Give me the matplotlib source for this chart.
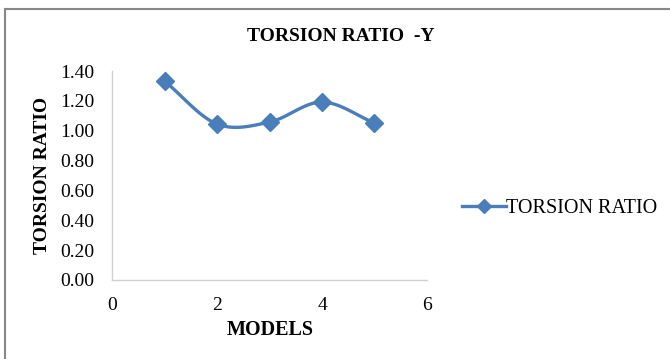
import numpy as np
import matplotlib.pyplot as plt
from matplotlib.lines import Line2D

models = [1, 2, 3, 4, 5]
torsion_ratio = [1.333, 1.045, 1.058, 1.192, 1.052]

x_ticks = [0, 2, 4, 6]
y_ticks = [0.0, 0.2, 0.4, 0.6, 0.8, 1.0, 1.2, 1.4]

blue = '#4a7ebb'
plt.rcParams['font.family'] = ['Liberation Serif', 'DejaVu Serif']


def smooth(xs, ys, n=30):
    # catmull-rom through the points, like excel's smoothed line
    xs = np.asarray(xs, float)
    ys = np.asarray(ys, float)
    px = np.concatenate([[2 * xs[0] - xs[1]], xs, [2 * xs[-1] - xs[-2]]])
    py = np.concatenate([[2 * ys[0] - ys[1]], ys, [2 * ys[-1] - ys[-2]]])
    outx, outy = [], []
    t = np.linspace(0, 1, n)
    for i in range(1, len(px) - 2):
        for p, out in ((px, outx), (py, outy)):
            p0, p1, p2, p3 = p[i - 1], p[i], p[i + 1], p[i + 2]
            out.extend(0.5 * (2 * p1 + (-p0 + p2) * t
                              + (2 * p0 - 5 * p1 + 4 * p2 - p3) * t ** 2
                              + (-p0 + 3 * p1 - 3 * p2 + p3) * t ** 3))
    return outx, outy


fig = plt.figure(figsize=(6.7, 3.59), dpi=100)
ax = fig.add_axes([0.1672, 0.2201, 0.4701, 0.5821])

sx, sy = smooth(models, torsion_ratio)
ax.plot(sx, sy, color=blue, lw=2.4, solid_capstyle='round')
ax.plot(models, torsion_ratio, ls='none', marker='D', ms=9.5, color=blue)

ax.set_xlim(0, 6)
ax.set_ylim(0, 1.4)
ax.set_xticks(x_ticks)
ax.set_yticks(y_ticks)
ax.set_yticklabels(['%.2f' % v for v in y_ticks])
ax.tick_params(length=0, labelsize=14)
ax.tick_params(axis='y', pad=12.5)
ax.tick_params(axis='x', pad=12)
for s in ['top', 'right']:
    ax.spines[s].set_visible(False)
for s in ['left', 'bottom']:
    ax.spines[s].set_color('#d0d0d0')
    ax.spines[s].set_linewidth(1)

fig.text(0.509, 0.897, 'TORSION RATIO  -Y', ha='center', va='center',
         fontsize=14, fontweight='bold')
fig.text(0.063, 0.5125, 'TORSION RATIO', ha='center', va='center',
         rotation=90, fontsize=14, fontweight='bold')
fig.text(0.403, 0.081, 'MODELS', ha='center', va='center',
         fontsize=14.5, fontweight='bold')

handle = Line2D([], [], color=blue, lw=2.4, marker='D', ms=7.5)
fig.legend([handle], ['TORSION RATIO'], loc='center left',
           bbox_to_anchor=(0.662, 0.42), frameon=False, fontsize=14.5,
           handlelength=2.2, handletextpad=0.0)

# outer chart border (only top and left are in frame)
fig.add_artist(Line2D([0.008, 1.0], [0.975, 0.975], color='#888888', lw=1.5,
                      transform=fig.transFigure))
fig.add_artist(Line2D([0.008, 0.008], [0.0, 0.975], color='#888888', lw=1.5,
                      transform=fig.transFigure))

fig.savefig('out.png', dpi=100)
